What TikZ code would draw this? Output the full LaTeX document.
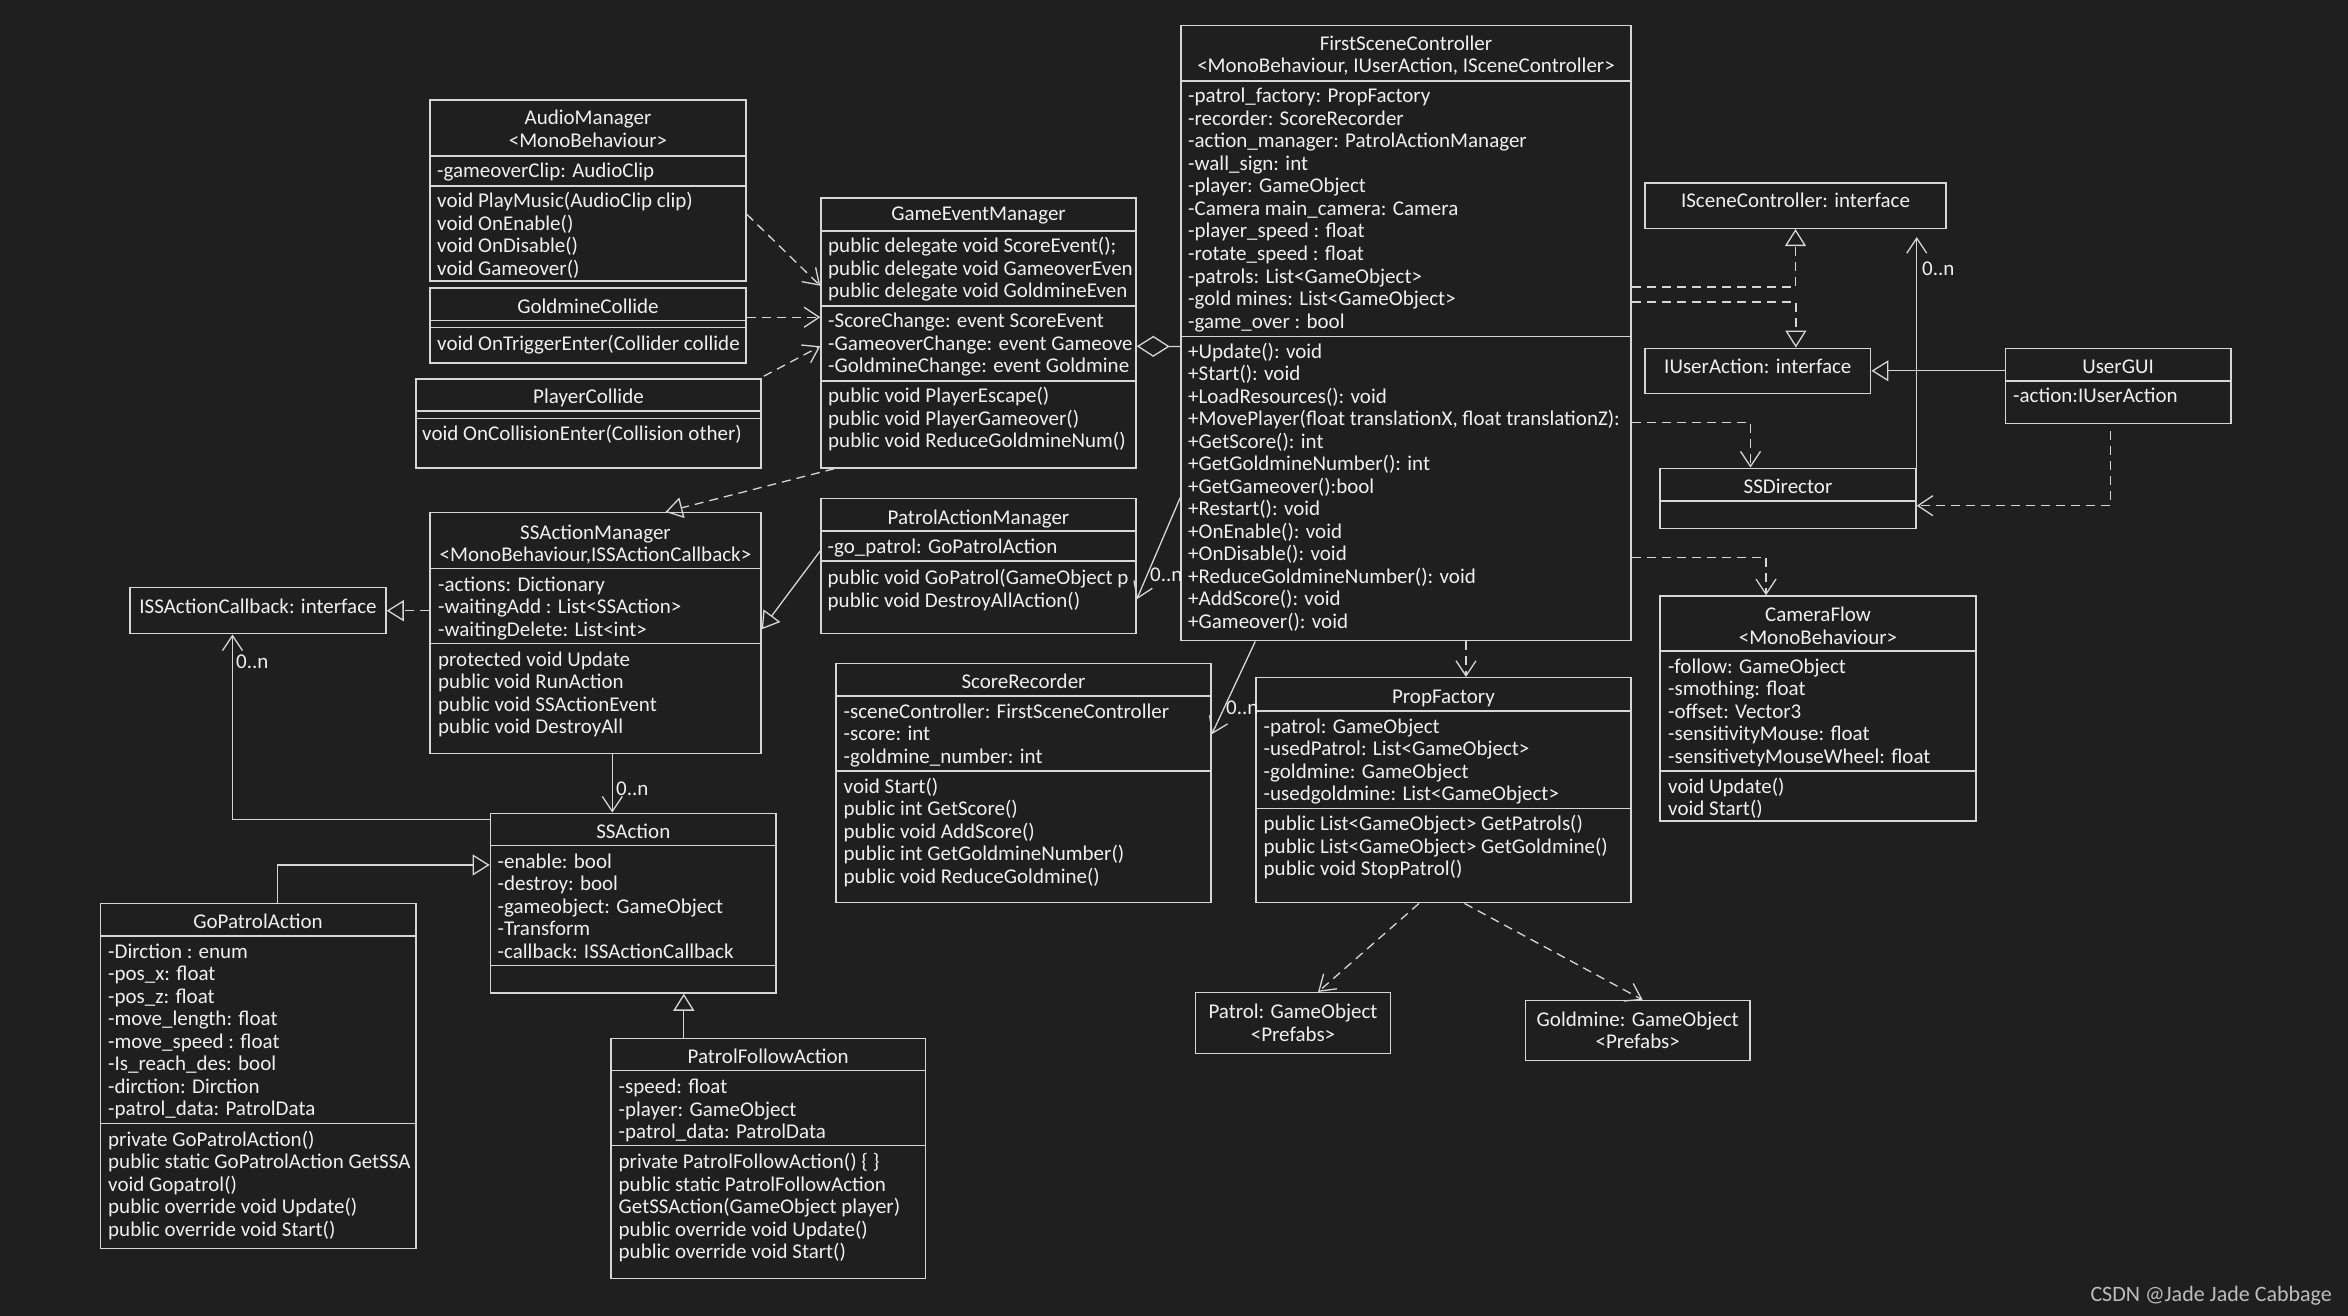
\documentclass[tikz,border=0pt]{standalone}
\usepackage{fontspec}
\setmainfont{Carlito}
\usetikzlibrary{arrows.meta,fit}
\definecolor{bgc}{HTML}{1F1F1F}
\definecolor{lnc}{HTML}{D6D6D6}
\definecolor{txc}{HTML}{F0F0F0}
\definecolor{wmc}{HTML}{BDBDBD}
\tikzset{
  box/.style={draw=lnc, line width=1.5pt, inner sep=0pt, fill=bgc},
  txt/.style={text=txc, font={\fontsize{21}{22.5}\selectfont}, inner sep=0pt},
  sepl/.style={draw=lnc, line width=1.5pt},
  con/.style={draw=lnc, line width=1.3pt},
  dashln/.style={con, dash pattern=on 9pt off 6pt},
  dep/.style={dashln, -{Straight Barb[length=15pt, width=20pt]}},
  real/.style={dashln, -{Triangle[open, length=17pt, width=21pt]}},
  gen/.style={con, -{Triangle[open, length=17pt, width=21pt]}},
  assoc/.style={con, -{Straight Barb[length=15pt, width=20pt]}},
  agg/.style={con, {Diamond[open, length=33pt, width=21pt]}-},
  lbl/.style={txt, anchor=base west}
}
\newcommand\umlbox[5]{\node[box, fit={(#2,#3) (#4,#5)}] (#1) {};}
\newcommand\divl[3]{\draw[sepl] (#1,#3) -- (#2,#3);}
\newcommand\tlines[4]{\foreach \t [count=\i] in {#4} {\node[txt, anchor=base west] (#1-\i) at (#2, {#3+(\i-1)*22.5}) {\t};}}
\newcommand\clines[4]{\foreach \t [count=\i] in {#4} {\node[txt, anchor=base] (#1-\i) at (#2, {#3+(\i-1)*22.5}) {\t};}}
\begin{document}
\begin{tikzpicture}[x=1pt,y=-1pt]
\fill[bgc] (0,0) rectangle (2348,1316);
\useasboundingbox (0,0) rectangle (2348,1316);

% AudioManager
\umlbox{am}{430}{100}{746}{281}
\divl{430}{746}{156}
\divl{430}{746}{186}
\clines{amh}{588}{125}{{AudioManager},{<MonoBehaviour>}}
\tlines{ama}{437}{177.5}{{-gameoverClip: AudioClip}}
\tlines{amm}{437}{207.5}{{void PlayMusic(AudioClip clip)},{void OnEnable()},{void OnDisable()},{void Gameover()}}

% GoldmineCollide
\umlbox{gc}{430}{288}{746}{363}
\divl{430}{746}{320.5}
\divl{430}{746}{327.5}
\clines{gch}{588}{313}{{GoldmineCollide}}
\begin{scope}
\clip (431,329) rectangle (745,362);
\tlines{gcm}{437}{350}{{void OnTriggerEnter(Collider collide}}
\end{scope}

% PlayerCollide
\umlbox{pc}{416}{379}{761}{468}
\divl{416}{761}{411}
\divl{416}{761}{418.5}
\clines{pch}{588.5}{403}{{PlayerCollide}}
\tlines{pcm}{422}{440}{{void OnCollisionEnter(Collision other)}}

% GameEventManager
\umlbox{gem}{821}{198}{1136}{468}
\divl{821}{1136}{231}
\divl{821}{1136}{306}
\divl{821}{1136}{381}
\clines{gemh}{978.5}{221}{{GameEventManager}}
\begin{scope}
\clip (822,232) rectangle (1135,467);
\tlines{gemd}{828}{252.5}{{public delegate void ScoreEvent();},{public delegate void GameoverEven},{public delegate void GoldmineEven}}
\tlines{gema}{828}{327.5}{{-ScoreChange: event ScoreEvent},{-GameoverChange: event Gameove},{-GoldmineChange:  event Goldmine}}
\tlines{gemm}{828}{402.5}{{public void PlayerEscape()},{public void PlayerGameover()},{public void ReduceGoldmineNum()}}
\end{scope}

% FirstSceneController
\umlbox{fsc}{1181}{25.7}{1631}{640.7}
\divl{1181}{1631}{81}
\divl{1181}{1631}{336.7}
\clines{fsch}{1406}{50.5}{{FirstSceneController},{<MonoBehaviour, IUserAction, ISceneController>}}
\begin{scope}
\clip (1182,82) rectangle (1630,640);
\tlines{fsca}{1188}{103}{{-patrol\_factory: PropFactory},{-recorder: ScoreRecorder},{-action\_manager: PatrolActionManager},{-wall\_sign: int},{-player: GameObject},{-Camera main\_camera: Camera},{-player\_speed : float},{-rotate\_speed : float},{-patrols:  List<GameObject>},{-gold mines:  List<GameObject>},{-game\_over : bool}}
\tlines{fscm}{1188}{358}{{+Update(): void},{+Start(): void},{+LoadResources(): void},{+MovePlayer(float translationX, float translationZ):},{+GetScore(): int},{+GetGoldmineNumber(): int},{+GetGameover():bool},{+Restart(): void},{+OnEnable(): void},{+OnDisable(): void},{+ReduceGoldmineNumber(): void},{+AddScore(): void},{+Gameover(): void}}
\end{scope}

% Interfaces and right side
\umlbox{isc}{1645}{183}{1946}{228.3}
\clines{isct}{1795.5}{208}{{ISceneController: interface}}
\umlbox{iua}{1645}{348.3}{1870.7}{393.3}
\clines{iuat}{1757.8}{373}{{IUserAction: interface}}
\umlbox{gui}{2005.5}{348.3}{2231}{423.3}
\divl{2005.5}{2231}{381}
\clines{guih}{2118}{373}{{UserGUI}}
\tlines{guia}{2013}{402.5}{{-action:IUserAction}}
\umlbox{ssd}{1660}{468.3}{1916}{528.3}
\divl{1660}{1916}{501}
\clines{ssdh}{1788}{493}{{SSDirector}}

% CameraFlow
\umlbox{cf}{1660}{596}{1976}{821}
\divl{1660}{1976}{651}
\divl{1660}{1976}{771}
\clines{cfh}{1818}{621.5}{{CameraFlow},{<MonoBehaviour>}}
\tlines{cfa}{1668}{673}{{-follow: GameObject},{-smothing: float},{-offset: Vector3},{-sensitivityMouse: float},{-sensitivetyMouseWheel: float}}
\tlines{cfm}{1668}{793}{{void Update()},{void Start()}}

% SSActionManager
\umlbox{sam}{430}{512.7}{761}{753.3}
\divl{430}{761}{568.3}
\divl{430}{761}{643.3}
\clines{samh}{595.5}{539}{{SSActionManager},{<MonoBehaviour,ISSActionCallback>}}
\tlines{sama}{438}{591}{{-actions: Dictionary},{-waitingAdd : List<SSAction>},{-waitingDelete: List<int>}}
\tlines{samm}{438}{666}{{protected void Update},{public void RunAction},{public void SSActionEvent},{public void DestroyAll}}

% ISSActionCallback
\umlbox{iscb}{130}{587.7}{386}{633.7}
\clines{iscbt}{258}{613.5}{{ISSActionCallback: interface}}

% PatrolActionManager
\umlbox{pam}{821}{498.3}{1136}{633.3}
\divl{821}{1136}{531}
\divl{821}{1136}{561}
\clines{pamh}{978.5}{524}{{PatrolActionManager}}
\begin{scope}
\clip (822,532) rectangle (1135,632);
\tlines{pama}{827.5}{553.5}{{-go\_patrol: GoPatrolAction}}
\tlines{pamm}{827.5}{584.5}{{public void GoPatrol(GameObject p},{public void DestroyAllAction()}}
\end{scope}

% ScoreRecorder
\umlbox{sr}{836}{663.3}{1211}{902.7}
\divl{836}{1211}{696}
\divl{836}{1211}{771}
\clines{srh}{1023.5}{688}{{ScoreRecorder}}
\tlines{sra}{843.5}{718}{{-sceneController: FirstSceneController},{-score: int},{-goldmine\_number: int}}
\tlines{srm}{843.5}{793}{{void Start()},{public int GetScore()},{public void AddScore()},{public int GetGoldmineNumber()},{public void ReduceGoldmine()}}

% PropFactory
\umlbox{pf}{1256}{677.7}{1631}{902.7}
\divl{1256}{1631}{711}
\divl{1256}{1631}{808.7}
\clines{pfh}{1443.5}{703}{{PropFactory}}
\tlines{pfa}{1263.5}{733}{{-patrol: GameObject},{-usedPatrol: List<GameObject>},{-goldmine: GameObject},{-usedgoldmine: List<GameObject>}}
\tlines{pfm}{1263.5}{830.5}{{public List<GameObject> GetPatrols()},{public List<GameObject> GetGoldmine()},{public void StopPatrol()}}

% SSAction
\umlbox{ssa}{490.4}{813.3}{776.2}{993}
\divl{490.4}{776.2}{845.7}
\divl{490.4}{776.2}{965.7}
\clines{ssah}{633.3}{838.5}{{SSAction}}
\tlines{ssaa}{497.5}{868}{{-enable: bool},{-destroy: bool},{-gameobject: GameObject},{-Transform},{-callback: ISSActionCallback}}

% GoPatrolAction
\umlbox{gpa}{100.3}{903.3}{415.9}{1248.3}
\divl{100.3}{415.9}{936}
\divl{100.3}{415.9}{1123.3}
\clines{gpah}{258}{928}{{GoPatrolAction}}
\begin{scope}
\clip (101,937) rectangle (415,1247);
\tlines{gpaa}{108}{958}{{-Dirction : enum},{-pos\_x: float},{-pos\_z: float},{-move\_length: float},{-move\_speed : float},{-Is\_reach\_des: bool},{-dirction: Dirction},{-patrol\_data: PatrolData}}
\tlines{gpam}{108}{1146}{{private GoPatrolAction()},{public static GoPatrolAction GetSSA},{void Gopatrol()},{public override void Update()},{public override void Start()}}
\end{scope}

% PatrolFollowAction
\umlbox{pfo}{611}{1038.3}{925.4}{1278.3}
\divl{611}{925.4}{1070.7}
\divl{611}{925.4}{1145.7}
\clines{pfoh}{768.2}{1063.5}{{PatrolFollowAction}}
\tlines{pfoa}{618.5}{1093.5}{{-speed: float},{-player: GameObject},{-patrol\_data: PatrolData}}
\tlines{pfom}{618.5}{1168.5}{{private PatrolFollowAction() \{ \}},{public static PatrolFollowAction},{GetSSAction(GameObject player)},{public override void Update()},{public override void Start()}}

% Prefabs
\umlbox{pat}{1195.4}{992.7}{1390.7}{1053.3}
\clines{patt}{1293}{1018.5}{{Patrol: GameObject},{<Prefabs>}}
\umlbox{gold}{1525.3}{1000.7}{1750.1}{1060.7}
\clines{goldt}{1637.7}{1026}{{Goldmine: GameObject},{<Prefabs>}}

% Connectors
\draw[dep] ([yshift=-115pt]am.north east) -- ([yshift=-88.5pt]gem.north west);
\draw[dep] ([yshift=-30pt]gc.north east) -- ([yshift=-120pt]gem.north west);
\draw[dep] ([xshift=2pt,yshift=2pt]pc.north east) -- ([yshift=-149pt]gem.north west);
\draw[real] ([xshift=14pt]gem.south west) -- ([xshift=70pt]sam.north);
\draw[agg] ([yshift=-149pt]gem.north east) -- ([yshift=-321.6pt]fsc.north west);
\draw[assoc] ([yshift=-472.6pt]fsc.north west) -- ([yshift=-101.7pt]pam.north east);
\node[lbl] (l1) at (1150,581) {0..n};
\draw[assoc] ([xshift=75pt]fsc.south west) -- ([yshift=-71.7pt]sr.north east);
\node[lbl] (l2) at (1226,714) {0..n};
\draw[dep] ([xshift=22.5pt]pf.north |- fsc.south) -- ([xshift=22.5pt]pf.north);
\draw[real] ([yshift=-262pt]fsc.north east) -| (isc.south);
\draw[real] ([yshift=-277pt]fsc.north east) -| ([xshift=38pt]iua.north);
\draw[dep] ([yshift=-397.6pt]fsc.north east) -| ([xshift=-37.5pt]ssd.north);
\draw[assoc, shorten >=8pt] (ssd.north east) -- (ssd.north east |- isc.south);
\node[lbl] (l3) at (1922,276) {0..n};
\draw[gen] (gui.west |- iua.east) -- (iua.east);
\draw[dep] ([xshift=-8pt,yshift=-7pt]gui.south) |- ([yshift=-7.4pt]ssd.east);
\draw[dep] ([yshift=-532.6pt]fsc.north east) -| ([xshift=-52pt]cf.north);
\draw[gen] ([yshift=-53.4pt]pam.north west) -- ([yshift=-117.3pt]sam.north east);
\draw[real] (iscb.east -| sam.west) -- (iscb.east);
\draw[assoc] ([xshift=-21pt]ssa.north |- sam.south) -- ([xshift=-21pt]ssa.north);
\node[lbl] (l4) at (616,795) {0..n};
\draw[assoc] ([yshift=-6.7pt]ssa.north west) -| ([xshift=-25.5pt]iscb.south);
\node[lbl] (l5) at (236,668) {0..n};
\draw[gen] ([xshift=19.5pt]gpa.north) |- ([yshift=-52.4pt]ssa.north west);
\draw[gen] ([xshift=-84.4pt]pfo.north) -- ([xshift=-84.4pt]pfo.north |- ssa.south);
\draw[dep] ([xshift=-24.5pt]pf.south) -- ([xshift=25pt]pat.north);
\draw[dep] ([xshift=21pt]pf.south) -- ([xshift=5pt]gold.north);

% watermark
\node[text=wmc, font={\fontsize{22}{24}\selectfont}, anchor=base east, inner sep=0pt] (wm) at (2332,1301) {CSDN @Jade Jade Cabbage};
\end{tikzpicture}
\end{document}
